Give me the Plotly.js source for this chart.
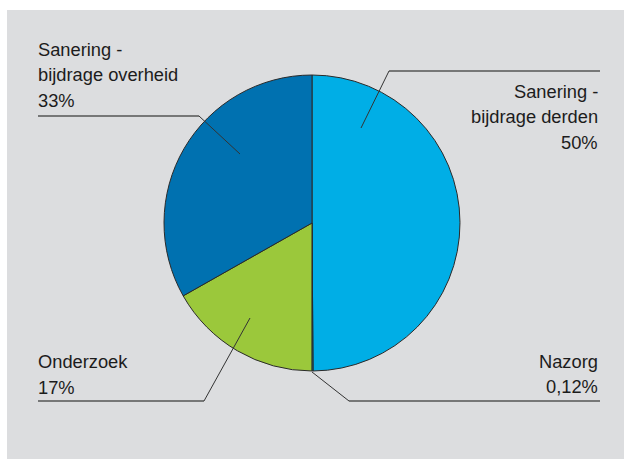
<!DOCTYPE html>
<html>
<head>
<meta charset="utf-8">
<script src="https://cdn.plot.ly/plotly-3.0.1.min.js"></script>
<style>
  html, body { margin: 0; padding: 0; background: #ffffff; width: 624px; height: 459px; overflow: hidden; }
  #chart { position: absolute; left: 7px; top: 10px; width: 617px; height: 449px; }
</style>
</head>
<body>
<div id="chart"></div>
<script>
// ---- data ----
var categories = ["Sanering - bijdrage derden", "Nazorg", "Onderzoek", "Sanering - bijdrage overheid"];
var values = [49.9, 0.12, 16.8, 33.2];
var pctLabels = ["50%", "0,12%", "17%", "33%"];
var colors = ["#00aee6", "#00aee6", "#9bc83b", "#0071b0"];

// ---- layout helpers (page pixel -> paper) ----
var OX = 7, OY = 10, W = 617, H = 449;
function px(x) { return (x - OX) / W; }
function py(y) { return 1 - (y - OY) / H; }

var cx = 312, cy = 223, r = 148;

// label placement (page pixels): anchor x, alignment, first baseline, line step
var labelPos = [
  { x: 599, anchor: "right", base: 97, step: 25.5 },
  { x: 599, anchor: "right", base: 367, step: 25.5 },
  { x: 37, anchor: "left", base: 367, step: 26 },
  { x: 37, anchor: "left", base: 55, step: 26 }
];
// leader line paths (page pixels): [outer end, elbow, inner end]
var leaders = [
  [[600, 71], [389, 71], [361, 128]],
  [[600, 401], [349, 401], [312, 372]],
  [[38, 401], [204, 401], [250, 318]],
  [[38, 116], [199, 116], [240, 154]]
];

var FAMILY = "Arial";
var font = { family: FAMILY, size: 18.3, color: "#1c1c1c" };

var annotations = [];
categories.forEach(function (cat, i) {
  var parts = cat.split(" - ");
  var lines = parts.length > 1 ? [parts[0] + " -", parts[1]] : [parts[0]];
  lines.push(pctLabels[i]);
  var p = labelPos[i];
  lines.forEach(function (t, k) {
    annotations.push({
      xref: "paper", yref: "paper",
      x: px(p.x), y: py(p.base + k * p.step - 6),
      xanchor: p.anchor, yanchor: "middle",
      text: t, showarrow: false, font: font, borderpad: 0
    });
  });
});

var shapes = [];
leaders.forEach(function (L) {
  shapes.push({
    type: "line", xref: "paper", yref: "paper",
    x0: px(L[0][0]), y0: py(L[0][1]), x1: px(L[1][0]), y1: py(L[1][1]),
    line: { color: "#555555", width: 1.6 }, layer: "above"
  });
  shapes.push({
    type: "line", xref: "paper", yref: "paper",
    x0: px(L[1][0]), y0: py(L[1][1]), x1: px(L[2][0]), y1: py(L[2][1]),
    line: { color: "#333333", width: 1 }, layer: "above"
  });
});

var trace = {
  type: "pie",
  labels: categories,
  values: values,
  sort: false,
  direction: "clockwise",
  rotation: 0,
  textinfo: "none",
  hoverinfo: "label+percent",
  marker: { colors: colors, line: { color: "#2a2a2a", width: 1 } },
  domain: { x: [px(cx - r), px(cx + r)], y: [py(cy + r), py(cy - r)] },
  showlegend: false
};

var layout = {
  width: W, height: H,
  margin: { l: 0, r: 0, t: 0, b: 0 },
  paper_bgcolor: "#dcdddf",
  plot_bgcolor: "#dcdddf",
  font: { family: FAMILY, size: 18, color: "#1c1c1c" },
  showlegend: false,
  annotations: annotations,
  shapes: shapes
};

Plotly.newPlot("chart", [trace], layout, { displayModeBar: false, staticPlot: true });
</script>
</body>
</html>
